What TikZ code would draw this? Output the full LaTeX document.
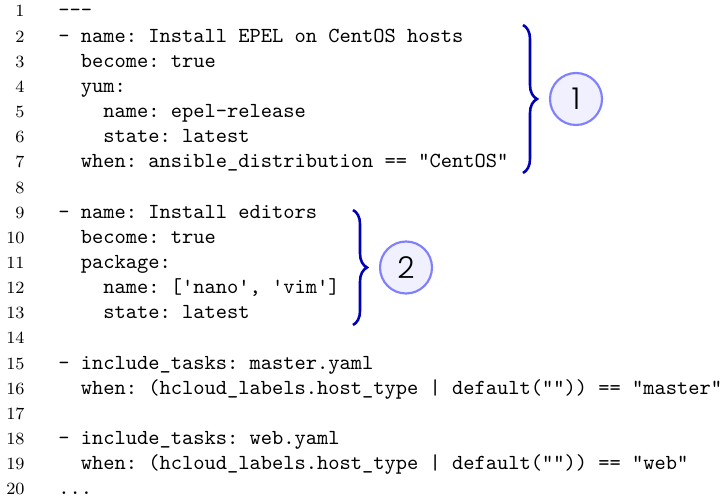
\documentclass[tikz,border=0pt]{standalone}
\usepackage{fontspec}
\usetikzlibrary{decorations.pathreplacing}
\newfontfamily\circlefont{Poppins}[UprightFont=* Light]
\newlength{\du}
\setlength{\du}{0.4667pt}
\definecolor{bracecolor}{rgb}{0.000000, 0.000000, 0.720000}
\definecolor{ringcolor}{rgb}{0.500000, 0.500000, 1.000000}
\definecolor{ringfill}{rgb}{0.940000, 0.940000, 1.000000}

\begin{document}
\begin{tikzpicture}[
  lineno/.style={anchor=base east, inner sep=0pt, font=\footnotesize},
  codeline/.style={anchor=base west, inner sep=0pt, font=\ttfamily\frenchspacing},
  codebrace/.style={draw=bracecolor, line width=1.2pt, decorate,
    decoration={brace, amplitude=14\du}},
  marker/.style={circle, draw=ringcolor, fill=ringfill, line width=1pt,
    minimum size=52\du, inner sep=0pt, font=\circlefont\fontsize{14}{16}\selectfont}
]
\pgftransformxscale{1.000000}
\pgftransformyscale{-1.000000}
\useasboundingbox (0\du,0\du) rectangle (725\du,498\du);
% line numbers
\node[lineno] (n1) at (25\du,17.00\du) {1};
\node[lineno] (n2) at (25\du,42.15\du) {2};
\node[lineno] (n3) at (25\du,67.30\du) {3};
\node[lineno] (n4) at (25\du,92.45\du) {4};
\node[lineno] (n5) at (25\du,117.60\du) {5};
\node[lineno] (n6) at (25\du,142.75\du) {6};
\node[lineno] (n7) at (25\du,167.90\du) {7};
\node[lineno] (n8) at (25\du,193.05\du) {8};
\node[lineno] (n9) at (25\du,218.20\du) {9};
\node[lineno] (n10) at (25\du,243.35\du) {10};
\node[lineno] (n11) at (25\du,268.50\du) {11};
\node[lineno] (n12) at (25\du,293.65\du) {12};
\node[lineno] (n13) at (25\du,318.80\du) {13};
\node[lineno] (n14) at (25\du,343.95\du) {14};
\node[lineno] (n15) at (25\du,369.10\du) {15};
\node[lineno] (n16) at (25\du,394.25\du) {16};
\node[lineno] (n17) at (25\du,419.40\du) {17};
\node[lineno] (n18) at (25\du,444.55\du) {18};
\node[lineno] (n19) at (25\du,469.70\du) {19};
\node[lineno] (n20) at (25\du,494.85\du) {20};
% code
\node[codeline] (l1) at (58.0\du,17.00\du) {---};
\node[codeline] (l2) at (58.0\du,42.15\du) {- name: Install EPEL on CentOS hosts};
\node[codeline] (l3) at (80.5\du,67.30\du) {become: true};
\node[codeline] (l4) at (80.5\du,92.45\du) {yum:};
\node[codeline] (l5) at (103.0\du,117.60\du) {name: epel-release};
\node[codeline] (l6) at (103.0\du,142.75\du) {state: latest};
\node[codeline] (l7) at (80.5\du,167.90\du) {when: ansible\_distribution == "CentOS"};
\node[codeline] (l9) at (58.0\du,218.20\du) {- name: Install editors};
\node[codeline] (l10) at (80.5\du,243.35\du) {become: true};
\node[codeline] (l11) at (80.5\du,268.50\du) {package:};
\node[codeline] (l12) at (103.0\du,293.65\du) {name: ['nano', 'vim']};
\node[codeline] (l13) at (103.0\du,318.80\du) {state: latest};
\node[codeline] (l15) at (58.0\du,369.10\du) {- include\_tasks: master.yaml};
\node[codeline] (l16) at (80.5\du,394.25\du) {when: (hcloud\_labels.host\_type | default("")) == "master"};
\node[codeline] (l18) at (58.0\du,444.55\du) {- include\_tasks: web.yaml};
\node[codeline] (l19) at (80.5\du,469.70\du) {when: (hcloud\_labels.host\_type | default("")) == "web"};
\node[codeline] (l20) at (58.0\du,494.85\du) {...};
% markers
\node[marker] (c1) at (576\du,99\du) {1};
\node[marker] (c2) at (406\du,267.5\du) {2};
\coordinate (b1top) at (523\du,25\du);
\coordinate (b1bot) at (523\du,173\du);
\coordinate (b2top) at (353\du,210\du);
\coordinate (b2bot) at (353\du,325\du);
\draw[codebrace] (b1top) -- (b1bot);
\draw[codebrace] (b2top) -- (b2bot);
\end{tikzpicture}
\end{document}
